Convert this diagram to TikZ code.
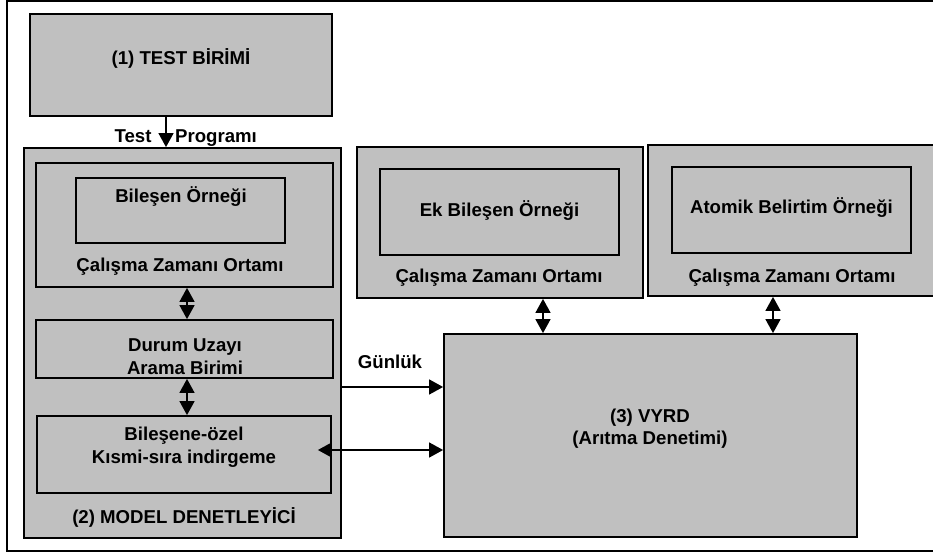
\documentclass[tikz,border=0pt]{standalone}
\usepackage{fontspec}
\setmainfont{Liberation Sans}
\usetikzlibrary{arrows.meta,fit,positioning}
\definecolor{boxgray}{RGB}{192,192,192}

\begin{document}
\begin{tikzpicture}[x=0.02cm,y=-0.02cm,
  font=\fontsize{10.6}{12}\selectfont\bfseries,
  unit/.style={draw,line width=1pt,fill=boxgray,inner sep=0pt},
  txt/.style={anchor=base,inner sep=0pt},
  flow/.style={line width=1pt,-{Triangle[length=8pt,width=8.5pt]}},
  twoway/.style={line width=1pt,{Triangle[length=8pt,width=8.5pt]}-{Triangle[length=8pt,width=8.5pt]}}]
\useasboundingbox (0,0) rectangle (933,554);
\clip (0,0) rectangle (933,554);

% outer frame, open on the right
\draw[line width=0.8pt] (940,1) -- (7,1) -- (7,551) -- (940,551);

% (1) test unit
\node[unit,fit={(30,14) (332,116)}] (test) {};
\node[txt] (testlbl) at (181,65) {(1) TEST BİRİMİ};

% (2) model checker
\node[unit,fit={(24,148) (341,538)}] (model) {};
\node[unit,fit={(36,163) (333,287)}] (rtmain) {};
\node[unit,fit={(76,178) (285,243)}] (comp) {};
\node[txt] (complbl) at (181,202) {Bileşen Örneği};
\node[txt] (rtmainlbl) at (180,271) {Çalışma Zamanı Ortamı};

\node[unit,fit={(36,320) (333,378)}] (search) {};
\node[txt] (searchlbla) at (185,351) {Durum Uzayı};
\node[txt] (searchlblb) at (185,374) {Arama Birimi};

\node[unit,fit={(37,416) (331,493)}] (por) {};
\node[txt] (porlbla) at (184,440) {Bileşene-özel};
\node[txt] (porlblb) at (184,463) {Kısmi-sıra indirgeme};

\node[txt] (modellbl) at (184,523) {(2) MODEL DENETLEYİCİ};

% right-hand runtime environments
\node[unit,fit={(357,147) (643,298)}] (rtek) {};
\node[unit,fit={(380,169) (619,255)}] (ekcomp) {};
\node[txt] (ekcomplbl) at (499.5,216) {Ek Bileşen Örneği};
\node[txt] (rteklbl) at (499,282) {Çalışma Zamanı Ortamı};

\node[unit,fit={(648,145) (936,296)}] (rtat) {};
\node[unit,fit={(672,167) (911,253)}] (atspec) {};
\node[txt] (atspeclbl) at (791.5,213) {Atomik Belirtim Örneği};
\node[txt] (rtatlbl) at (792,282) {Çalışma Zamanı Ortamı};

% (3) VYRD
\node[unit,fit={(444,334) (857,537)}] (vyrd) {};
\node[txt] (vyrdlbla) at (650,422) {(3) VYRD};
\node[txt] (vyrdlblb) at (650,444) {(Arıtma Denetimi)};

% connectors
\draw[flow] ([xshift=-0.3cm]test.south) -- ([xshift=-0.3cm]test.south |- model.north);
\node[txt] (testprg) at (133,142) {Test};
\node[txt] (testprgb) at (216,142) {Programı};

\draw[twoway] ([xshift=0.05cm]rtmain.south) -- ([xshift=0.05cm]rtmain.south |- search.north);
\draw[twoway] ([xshift=0.05cm]search.south) -- ([xshift=0.05cm]search.south |- por.north);

\draw[flow] ([yshift=-0.88cm]model.east) -- ([yshift=-0.88cm]model.east -| vyrd.west);
\node[txt] (log) at (390,368) {Günlük};
\draw[twoway] ([xshift=-0.28cm,yshift=0.09cm]por.east) -- ([yshift=0.09cm]por.east -| vyrd.west);

\draw[twoway] ([xshift=0.86cm]rtek.south) -- ([xshift=0.86cm]rtek.south |- vyrd.north);
\draw[twoway] ([xshift=-0.38cm]rtat.south) -- ([xshift=-0.38cm]rtat.south |- vyrd.north);

\end{tikzpicture}
\end{document}
